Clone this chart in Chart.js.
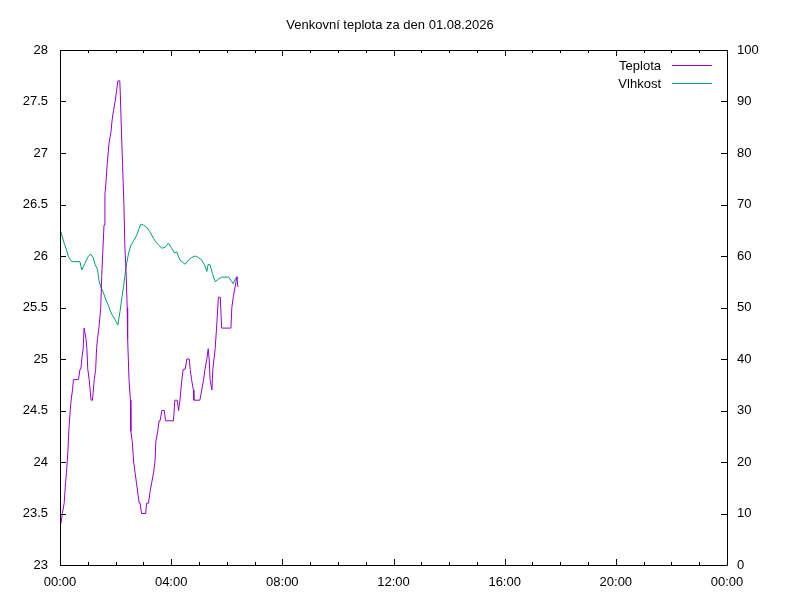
<!DOCTYPE html>
<html>
<head>
<meta charset="utf-8">
<title>Venkovní teplota</title>
<script src="https://cdn.jsdelivr.net/npm/chart.js@4.4.1/dist/chart.umd.min.js"></script>
<style>
    html, body { margin: 0; padding: 0; background: #fff; }
    #wrap { width: 800px; height: 600px; }
</style>
</head>
<body>
<div id="wrap"><canvas id="weatherChart" width="800" height="600"></canvas></div>
<script>
// minutes since midnight
const tempTimes = [2, 5, 9, 12, 14, 17, 19, 22, 24, 27, 29, 40, 41, 43, 45, 47, 50, 52, 56, 58,
    60, 63, 65, 67, 70, 72, 74, 77, 79, 81, 84, 86, 88, 90, 92, 95, 97, 99, 102, 104,
    106, 110, 112, 115, 119, 122, 125, 129, 130, 132, 135, 138, 140, 143, 145, 146, 149, 152, 153, 156,
    159, 162, 165, 168, 171, 173, 176, 185, 187, 191, 194, 198, 202, 205, 207, 211, 214, 216, 220, 225,
    228, 245, 248, 253, 256, 259, 263, 266, 270, 274, 279, 281, 284, 288, 289, 300, 302, 306, 310, 313,
    317, 320, 322, 324, 328, 330, 335, 338, 342, 346, 349, 369, 371, 374, 378, 382, 384];
const temperature = [23.4, 23.5, 23.6, 23.8, 23.9, 24.1, 24.3, 24.5, 24.6, 24.7, 24.8, 24.8, 24.8, 24.9, 24.9, 25.0, 25.1, 25.3, 25.2, 25.1,
    24.9, 24.8, 24.7, 24.6, 24.6, 24.7, 24.8, 24.9, 25.1, 25.2, 25.3, 25.4, 25.5, 25.8, 26.0, 26.3, 26.6, 26.7, 26.9, 27.0,
    27.1, 27.2, 27.3, 27.4, 27.5, 27.6, 27.7, 27.7, 27.6, 27.3, 26.9, 26.5, 26.1, 25.8, 25.5, 25.2, 24.8, 24.6, 24.3, 24.2,
    24.0, 23.9, 23.8, 23.7, 23.6, 23.6, 23.5, 23.5, 23.6, 23.6, 23.7, 23.8, 23.9, 24.0, 24.2, 24.3, 24.4, 24.4, 24.5, 24.5,
    24.4, 24.4, 24.6, 24.6, 24.5, 24.6, 24.8, 24.9, 24.9, 25.0, 25.0, 24.9, 24.8, 24.7, 24.6, 24.6, 24.6, 24.7, 24.8, 24.9,
    25.0, 25.1, 25.0, 24.8, 24.7, 24.9, 25.1, 25.3, 25.6, 25.6, 25.3, 25.3, 25.5, 25.6, 25.7, 25.8, 25.7];

const humidityTimes = [2, 5, 9, 14, 18, 25, 43, 47, 54, 61, 66, 72, 76, 81, 84, 88, 94, 99, 104, 108,
    113, 119, 125, 130, 133, 137, 140, 144, 148, 153, 158, 166, 171, 175, 180, 187, 194, 202, 209, 220,
    227, 234, 241, 247, 252, 259, 270, 277, 284, 292, 299, 306, 313, 317, 320, 324, 329, 335, 342, 349,
    364, 369, 374, 379, 385];
const humidity = [64.7, 63.7, 62.5, 61.2, 59.9, 58.9, 58.9, 57.3, 58.6, 59.9, 60.4, 59.6, 58.3, 57.4, 55.3, 54.0, 52.8, 51.5, 50.5, 49.5,
    48.5, 47.6, 46.6, 49.5, 51.5, 54.0, 56.1, 58.6, 60.5, 62.1, 62.8, 64.1, 65.4, 66.2, 66.0, 65.6, 64.7, 63.4, 62.5, 61.5,
    61.7, 62.5, 61.5, 60.6, 60.8, 59.2, 58.4, 59.2, 59.7, 60.0, 59.7, 59.2, 58.1, 57.0, 58.4, 58.3, 56.6, 55.0, 55.5, 55.9,
    55.9, 55.3, 54.6, 55.7, 55.7];

const xTickLabels = ['00:00', '04:00', '08:00', '12:00', '16:00', '20:00', '00:00'];
const seriesNames = ['Teplota', 'Vlhkost'];
const seriesColors = ['#9400d3', '#009e73'];

const FONT = "'Liberation Sans', Arial, sans-serif";

// gnuplot style frame: full border, inward ticks, hourly minor ticks
const framePlugin = {
    id: 'frame',
    afterDraw(chart) {
        const {ctx, chartArea: a, scales} = chart;
        ctx.save();
        ctx.strokeStyle = '#000';
        ctx.lineWidth = 1;
        ctx.beginPath();
        ctx.rect(Math.round(a.left) + 0.5, Math.round(a.top) + 0.5,
            Math.round(a.right - a.left), Math.round(a.bottom - a.top));

        for (let m = 0; m <= 1440; m += 60) {
            const x = Math.round(scales.x.getPixelForValue(m)) + 0.5;
            const len = m % 240 === 0 ? 6 : 3;
            ctx.moveTo(x, a.bottom);
            ctx.lineTo(x, a.bottom - len);
            ctx.moveTo(x, a.top);
            ctx.lineTo(x, a.top + len);
        }
        scales.y.ticks.forEach(t => {
            const y = Math.round(scales.y.getPixelForValue(t.value)) + 0.5;
            ctx.moveTo(a.left, y);
            ctx.lineTo(a.left + 6, y);
        });
        scales.y2.ticks.forEach(t => {
            const y = Math.round(scales.y2.getPixelForValue(t.value)) + 0.5;
            ctx.moveTo(a.right, y);
            ctx.lineTo(a.right - 6, y);
        });
        ctx.stroke();

        // legend in the top right corner
        ctx.font = '13px ' + FONT;
        ctx.textAlign = 'right';
        ctx.textBaseline = 'middle';
        seriesNames.forEach((name, i) => {
            const y = Math.round(66 + i * 17.5);
            ctx.fillStyle = '#000';
            ctx.fillText(name, Math.round(a.right) - 66, y);
            ctx.fillStyle = seriesColors[i];
            ctx.fillRect(Math.round(a.right) - 55, y - 1, 40, 1);
        });
        ctx.restore();
    }
};

Chart.defaults.color = '#000';
Chart.defaults.font.family = FONT;
Chart.defaults.font.size = 13;

new Chart(document.querySelector('#weatherChart'), {
    type: 'line',
    data: {
        datasets: [{
            label: seriesNames[0],
            data: tempTimes.map((t, i) => ({x: t, y: temperature[i]})),
            borderColor: seriesColors[0],
            borderWidth: 1,
            pointRadius: 0,
            tension: 0,
            yAxisID: 'y'
        }, {
            label: seriesNames[1],
            data: humidityTimes.map((t, i) => ({x: t, y: humidity[i]})),
            borderColor: seriesColors[1],
            borderWidth: 1,
            pointRadius: 0,
            tension: 0,
            yAxisID: 'y2'
        }]
    },
    options: {
        responsive: false,
        animation: false,
        layout: {padding: {top: 0, right: 20, left: 0, bottom: 0}},
        plugins: {
            legend: {display: false},
            tooltip: {enabled: false},
            title: {
                display: true,
                text: 'Venkovní teplota za den 01.08.2026',
                color: '#000',
                font: {size: 13, weight: 'normal'},
                padding: {top: 18, bottom: 16.4}
            }
        },
        scales: {
            x: {
                type: 'linear',
                min: 0,
                max: 1440,
                grid: {display: false, drawTicks: false},
                border: {display: false},
                ticks: {
                    stepSize: 240,
                    padding: 10,
                    maxRotation: 0,
                    callback: (value) => xTickLabels[value / 240]
                },
                afterFit: (scale) => { scale.height = 35; }
            },
            y: {
                position: 'left',
                min: 23,
                max: 28,
                grid: {display: false, drawTicks: false},
                border: {display: false},
                ticks: {stepSize: 0.5, padding: 12, callback: (value) => String(value)},
                afterFit: (scale) => { scale.width = 60; }
            },
            y2: {
                position: 'right',
                min: 0,
                max: 100,
                grid: {display: false, drawTicks: false},
                border: {display: false},
                ticks: {stepSize: 10, padding: 10},
                afterFit: (scale) => { scale.width = 53; }
            }
        }
    },
    plugins: [framePlugin]
});
</script>
</body>
</html>
